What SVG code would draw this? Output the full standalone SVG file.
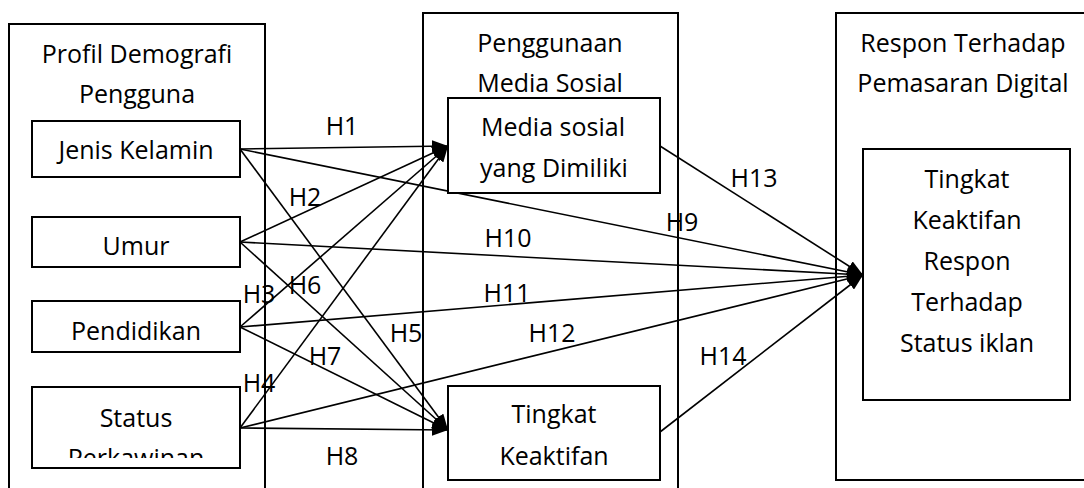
<svg xmlns="http://www.w3.org/2000/svg" width="1084" height="488" viewBox="0 0 1084 488">
<style>
.box{fill:#fff;stroke:#000;stroke-width:2}
.frame{fill:none;stroke:#000;stroke-width:2}
.t{font-family:"Open Sans","Liberation Sans",sans-serif;font-size:25px;fill:#000;text-anchor:middle}
.c{stroke:#000;stroke-width:1.6;fill:none}
</style>
<defs>
<marker id="ah" markerUnits="userSpaceOnUse" markerWidth="16" markerHeight="12" refX="16" refY="6" orient="auto" viewBox="0 0 16 12">
<path d="M0,0 L16,6 L0,12 z" fill="#000"/>
</marker>
<clipPath id="clipStatus"><rect x="32" y="387" width="208" height="71"/></clipPath>
</defs>
<rect width="1084" height="488" fill="#fff"/>

<g id="profil">
<rect class="frame" x="9" y="24" width="256" height="480"/>
<text class="t" x="137" y="63">Profil Demografi</text>
<text class="t" x="137" y="103">Pengguna</text>
</g>
<g id="penggunaan">
<rect class="frame" x="423" y="13" width="255" height="490"/>
<text class="t" x="550" y="52">Penggunaan</text>
<text class="t" x="550" y="92">Media Sosial</text>
</g>
<g id="respon">
<rect class="frame" x="836" y="13" width="260" height="467"/>
<text class="t" x="963" y="52">Respon Terhadap</text>
<text class="t" x="963" y="92">Pemasaran Digital</text>
</g>

<g id="connectors">
<line class="c" x1="240" y1="149" x2="448" y2="146" marker-end="url(#ah)"/>
<line class="c" x1="240" y1="242" x2="448" y2="146" marker-end="url(#ah)"/>
<line class="c" x1="240" y1="327" x2="448" y2="146" marker-end="url(#ah)"/>
<line class="c" x1="240" y1="428" x2="448" y2="146" marker-end="url(#ah)"/>
<line class="c" x1="240" y1="149" x2="448" y2="430" marker-end="url(#ah)"/>
<line class="c" x1="240" y1="242" x2="448" y2="430" marker-end="url(#ah)"/>
<line class="c" x1="240" y1="327" x2="448" y2="430" marker-end="url(#ah)"/>
<line class="c" x1="240" y1="428" x2="448" y2="430" marker-end="url(#ah)"/>
<line class="c" x1="240" y1="149" x2="863" y2="275" marker-end="url(#ah)"/>
<line class="c" x1="240" y1="242" x2="863" y2="275" marker-end="url(#ah)"/>
<line class="c" x1="240" y1="327" x2="863" y2="275" marker-end="url(#ah)"/>
<line class="c" x1="240" y1="428" x2="863" y2="275" marker-end="url(#ah)"/>
<line class="c" x1="660" y1="146" x2="863" y2="275" marker-end="url(#ah)"/>
<line class="c" x1="660" y1="432" x2="863" y2="275" marker-end="url(#ah)"/>
<text class="t" x="342" y="135">H1</text>
<text class="t" x="305" y="206">H2</text>
<text class="t" x="259" y="303">H3</text>
<text class="t" x="259" y="392">H4</text>
<text class="t" x="406" y="342">H5</text>
<text class="t" x="305" y="294">H6</text>
<text class="t" x="325" y="365">H7</text>
<text class="t" x="342" y="465">H8</text>
<text class="t" x="682" y="231">H9</text>
<text class="t" x="508" y="247">H10</text>
<text class="t" x="507" y="302">H11</text>
<text class="t" x="552" y="342">H12</text>
<text class="t" x="754" y="187">H13</text>
<text class="t" x="723" y="365">H14</text>
</g>

<g id="jenis-kelamin">
<rect class="box" x="32" y="121" width="208" height="56"/>
<text class="t" x="136" y="159">Jenis Kelamin</text>
</g>
<g id="umur">
<rect class="box" x="32" y="217" width="208" height="50"/>
<text class="t" x="136" y="255">Umur</text>
</g>
<g id="pendidikan">
<rect class="box" x="32" y="301" width="208" height="51"/>
<text class="t" x="136" y="340">Pendidikan</text>
</g>
<g id="status">
<rect class="box" x="32" y="387" width="208" height="81"/>
<g clip-path="url(#clipStatus)">
<text class="t" x="136" y="427">Status</text>
<text class="t" x="136" y="467">Perkawinan</text>
</g>
</g>
<g id="media-sosial">
<rect class="box" x="448" y="98" width="212" height="95"/>
<text class="t" x="553" y="136">Media sosial</text>
<text class="t" x="554" y="177">yang Dimiliki</text>
</g>
<g id="tingkat-keaktifan">
<rect class="box" x="448" y="386" width="212" height="94"/>
<text class="t" x="554" y="423">Tingkat</text>
<text class="t" x="554" y="465">Keaktifan</text>
</g>
<g id="tingkat-respon">
<rect class="box" x="863" y="149" width="207" height="251"/>
<text class="t" x="967" y="188">Tingkat</text>
<text class="t" x="967" y="229">Keaktifan</text>
<text class="t" x="967" y="270">Respon</text>
<text class="t" x="967" y="311">Terhadap</text>
<text class="t" x="967" y="352">Status iklan</text>
</g>
</svg>
